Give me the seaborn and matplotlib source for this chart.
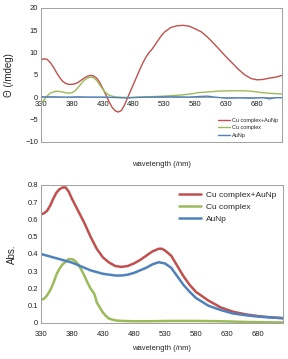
import numpy as np
import pandas as pd
import matplotlib
matplotlib.use("Agg")
import matplotlib.pyplot as plt
import seaborn as sns

# ---- CD data (top) ----
cd_red_x = [330,335,340,345,350,355,360,365,370,375,380,385,390,395,400,405,410,415,420,425,430,435,440,445,450,455,460,465,470,475,480,485,490,495,500,505,510,515,520,525,530,540,550,560,570,580,590,600,610,620,630,640,650,660,670,680,690,700,710,720]
cd_red_y = [8.4,8.6,8.5,7.8,6.8,5.6,4.5,3.6,3.1,2.9,2.9,3.0,3.3,3.8,4.3,4.7,4.9,4.8,4.3,3.4,2.0,0.6,-0.9,-2.2,-3.0,-3.3,-3.0,-1.8,-0.2,1.4,3.0,4.6,6.2,7.7,9.0,10.0,10.8,11.8,12.8,13.8,14.6,15.6,16.0,16.1,15.9,15.3,14.6,13.4,12.0,10.5,9.0,7.6,6.2,5.0,4.2,3.9,4.0,4.3,4.5,4.9]
cd_green_x = [330,335,340,345,350,355,360,365,370,375,380,385,390,395,400,405,410,415,420,425,430,435,440,445,450,460,470,480,500,520,540,560,575,585,600,620,640,660,670,680,690,700,710,720]
cd_green_y = [-1.5,-0.6,0.3,0.9,1.2,1.35,1.3,1.2,1.0,0.95,1.0,1.4,2.2,3.0,3.8,4.3,4.5,4.4,3.8,2.8,1.8,1.0,0.5,0.25,0.1,0.0,-0.05,0.0,0.1,0.2,0.35,0.55,0.8,1.05,1.2,1.4,1.45,1.45,1.35,1.2,1.0,0.9,0.8,0.75]
cd_blue_x = [330,350,370,390,410,430,450,470,490,510,530,550,570,590,600,610,630,650,670,690,700,710,720]
cd_blue_y = [0.1,0.1,0.05,0.1,0.05,0.05,-0.05,-0.15,0.0,0.05,0.1,0.1,0.05,0.2,0.25,0.05,-0.2,-0.15,-0.2,-0.1,-0.35,-0.1,-0.1]

# ---- Absorbance data (bottom) ----
ab_red_x = [330,335,340,345,350,355,360,365,370,375,380,390,400,410,420,430,440,450,460,470,480,490,500,510,520,525,530,540,550,560,570,580,600,620,640,660,680,700,720]
ab_red_y = [0.63,0.635,0.65,0.68,0.72,0.755,0.775,0.785,0.785,0.76,0.72,0.65,0.58,0.50,0.43,0.38,0.35,0.33,0.325,0.33,0.345,0.365,0.39,0.415,0.43,0.43,0.42,0.39,0.33,0.27,0.22,0.18,0.13,0.09,0.065,0.05,0.04,0.033,0.028]
ab_green_x = [330,335,340,345,350,355,360,365,370,375,380,385,390,395,400,405,410,415,417,420,425,430,435,440,450,460,480,500,540,580,620,660,700,720]
ab_green_y = [0.135,0.14,0.16,0.19,0.23,0.28,0.315,0.34,0.355,0.37,0.37,0.36,0.34,0.31,0.275,0.235,0.2,0.175,0.16,0.12,0.09,0.06,0.04,0.025,0.015,0.012,0.01,0.01,0.012,0.012,0.01,0.006,0.004,0.003]
ab_blue_x = [330,340,350,360,370,380,390,400,410,420,430,440,450,460,470,480,490,500,510,520,530,540,550,560,570,580,600,620,640,660,680,700,720]
ab_blue_y = [0.40,0.39,0.38,0.37,0.36,0.35,0.335,0.32,0.305,0.295,0.285,0.28,0.275,0.275,0.28,0.29,0.305,0.32,0.34,0.352,0.345,0.32,0.27,0.22,0.18,0.145,0.10,0.075,0.055,0.045,0.037,0.032,0.028]

labels = ["Cu complex+AuNp", "Cu complex", "AuNp"]
colors = ["#c0504d", "#9bbb59", "#4f81bd"]
xticks = [330, 380, 430, 480, 530, 580, 630, 680]

sns.set_theme(style="white")
plt.rcParams['font.family'] = ['Liberation Sans', 'DejaVu Sans']

def frame(df_list):
    rows = []
    for lab, (xs, ys) in zip(labels, df_list):
        for a, b in zip(xs, ys):
            rows.append((lab, a, b))
    return pd.DataFrame(rows, columns=["series", "wl", "val"])

cd = frame([(cd_red_x, cd_red_y), (cd_green_x, cd_green_y), (cd_blue_x, cd_blue_y)])
ab = frame([(ab_red_x, ab_red_y), (ab_green_x, ab_green_y), (ab_blue_x, ab_blue_y)])
pal = dict(zip(labels, colors))

fig = plt.figure(figsize=(2.88, 3.59), dpi=100)
ax1 = fig.add_axes([0.142, 0.6045, 0.837, 0.3735])
ax2 = fig.add_axes([0.142, 0.1003, 0.840, 0.3847])

sns.lineplot(data=cd, x="wl", y="val", hue="series", palette=pal, ax=ax1, lw=1.0, sort=False)
sns.lineplot(data=ab, x="wl", y="val", hue="series", palette=pal, ax=ax2, lw=1.8, sort=False)

for ax in (ax1, ax2):
    ax.set_xlim(330, 720)
    ax.set_xticks(xticks)
    for s in ax.spines.values():
        s.set_color("#a0a0a0")
        s.set_linewidth(0.7)
    ax.tick_params(axis="both", labelsize=5.5, length=0, pad=2, colors="#222222")

# top axes
ax1.set_ylim(-10, 20)
ax1.set_yticks([-10, -5, 0, 5, 10, 15, 20])
ax1.axhline(0, color="#a0a0a0", lw=0.7, zorder=0)
ax1.tick_params(axis="x", labelbottom=False)
sec = ax1.secondary_xaxis(1/3)
sec.set_xticks(xticks)
sec.tick_params(axis="x", labelsize=5.5, length=0, pad=2.5, colors="#222222")
sec.spines["bottom"].set_visible(False)
ax1.set_xlabel("wavelength (/nm)", fontsize=5.5, labelpad=14)
ax1.set_ylabel("Θ (/mdeg)", fontsize=7, labelpad=8)
leg1 = ax1.legend(loc="lower right", fontsize=4, frameon=False, handlelength=2.2,
                  handletextpad=0.3, labelspacing=0.5, borderaxespad=0.3)
for ln in leg1.get_lines():
    ln.set_linewidth(1.0)

# bottom axes
ax2.set_ylim(0, 0.8)
ax2.set_yticks([0, 0.1, 0.2, 0.3, 0.4, 0.5, 0.6, 0.7, 0.8])
ax2.set_yticklabels(["0", "0.1", "0.2", "0.3", "0.4", "0.5", "0.6", "0.7", "0.8"])
ax2.tick_params(axis="x", pad=6)
ax2.set_xlabel("wavelength (/nm)", fontsize=5.5, labelpad=5)
ax2.set_ylabel("Abs.", fontsize=7, labelpad=8)
leg2 = ax2.legend(loc="upper right", fontsize=6, frameon=False, handlelength=2.6,
                  handletextpad=0.6, labelspacing=0.5, borderaxespad=0.4)
for ln in leg2.get_lines():
    ln.set_linewidth(1.8)

fig.savefig("out.png", dpi=100)
